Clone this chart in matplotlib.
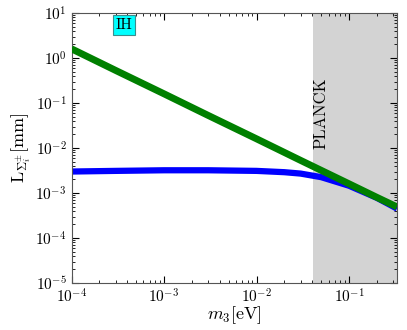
import matplotlib
matplotlib.use("Agg")
import matplotlib.pyplot as plt
import numpy as np

plt.rcParams['mathtext.fontset'] = 'cm'
plt.rcParams['font.family'] = 'cmr10'
plt.rcParams['axes.formatter.use_mathtext'] = True

# values
m3_green = [1e-4, 3e-4, 1e-3, 3e-3, 1e-2, 3e-2, 1e-1, 0.2, 0.33]
L_green = [1.6, 0.53, 0.16, 0.053, 0.016, 5.3e-3, 1.6e-3, 8.0e-4, 4.9e-4]

m3_blue = [1e-4, 3e-4, 1e-3, 3e-3, 1e-2, 2e-2, 3e-2, 5e-2, 0.1, 0.2, 0.33]
L_blue = [3.0e-3, 3.1e-3, 3.2e-3, 3.2e-3, 3.1e-3, 2.9e-3, 2.7e-3, 2.25e-3, 1.45e-3, 7.8e-4, 4.5e-4]

planck = 0.041
xmax = 0.33

fig = plt.figure(figsize=(4.07, 3.30), dpi=100)
ax = fig.add_axes([71.5/407, 1 - 283/330, (397 - 71.5)/407, (283 - 13)/330])

ax.axvspan(planck, xmax, color='lightgray', lw=0, zorder=0)
ax.plot(m3_blue, L_blue, color='blue', lw=4.5, solid_capstyle='butt', zorder=2)
ax.plot(m3_green, L_green, color='green', lw=5, solid_capstyle='butt', zorder=3)

ax.set_xscale('log')
ax.set_yscale('log')
ax.set_xlim(1e-4, xmax)
ax.set_ylim(1e-5, 10)

ax.tick_params(which='both', direction='in', top=True, right=True, labelsize=11)
ax.tick_params(which='major', length=5)
ax.tick_params(which='minor', length=2.5)
ax.tick_params(axis='x', pad=3.5)
for s in ax.spines.values():
    s.set_color('#555555')

ax.set_xlabel(r'$m_3[\mathrm{eV}]$', fontsize=13, labelpad=-1)
ax.set_ylabel(r'$\mathrm{L}_{\Sigma_i^{\pm}}[\mathrm{mm}]$', fontsize=13, labelpad=2)

ax.text(3.7e-4, 5.4, 'IH', fontsize=11, ha='center', va='center',
        bbox=dict(facecolor='cyan', edgecolor='#3c8c8c', lw=0.8, boxstyle='square,pad=0.2'))
ax.text(0.049, 0.06, 'PLANCK', rotation=90, fontsize=12, ha='center', va='center')

fig.savefig('out.png', dpi=100)
